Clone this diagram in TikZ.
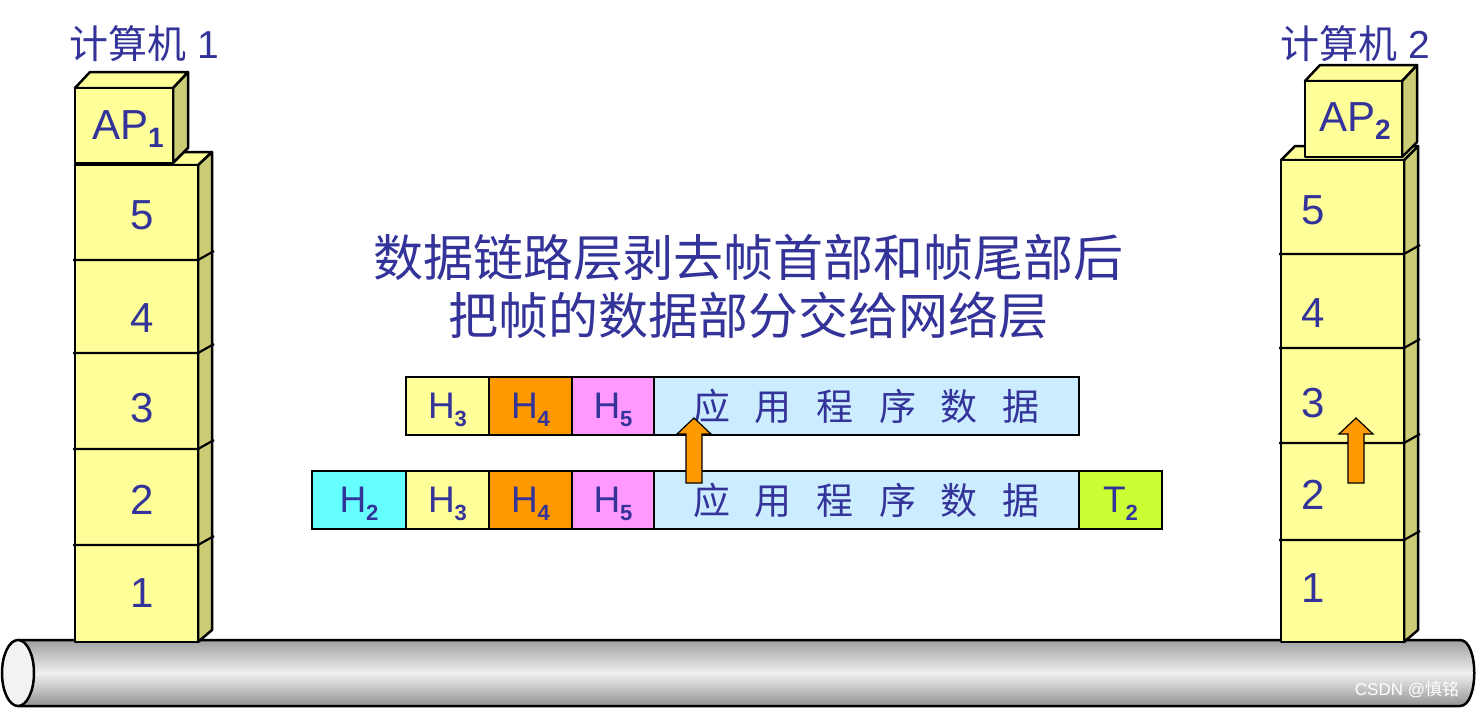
\documentclass[tikz,border=0pt]{standalone}
\usepackage{fontspec}
\setmainfont{Liberation Sans}
\newfontfamily\cjk{Noto Sans CJK SC}
\usetikzlibrary{positioning}

\definecolor{txtblue}{HTML}{333399}
\definecolor{layeryellow}{HTML}{FFFF99}
\definecolor{layerside}{HTML}{CCCC77}
\definecolor{htwo}{HTML}{66FFFF}
\definecolor{hthree}{HTML}{FFFF99}
\definecolor{hfour}{HTML}{FF9900}
\definecolor{hfive}{HTML}{FF99FF}
\definecolor{datablue}{HTML}{CCECFF}
\definecolor{ttwo}{HTML}{CCFF33}

\newcommand{\subnum}[2][22]{\raisebox{-8pt}[0pt][0pt]{\fontsize{#1}{#1}\selectfont\bfseries #2}}
\newcommand{\gap}{\hspace{25pt}}

\tikzset{
  blockface/.style={draw, line width=2.5pt, line join=round, fill=layeryellow},
  sideface/.style={blockface, fill=layerside},
  sepline/.style={line width=2.2pt},
  layernum/.style={text=txtblue, font=\fontsize{42}{42}\selectfont},
  seg/.style={draw, line width=2pt, minimum height=58, inner sep=0pt, outer sep=0pt,
    text=txtblue, font=\fontsize{37}{37}\selectfont},
  datafont/.style={font=\cjk\fontsize{37}{37}\selectfont},
  uparrow/.style={draw, line width=1.2pt, line join=miter, fill=hfour},
}

\begin{document}
\begin{tikzpicture}[x=1pt, y=-1pt]
  \useasboundingbox (0,0) rectangle (1478,710);

  % cable
  \shade[top color=gray!75, bottom color=gray!85, middle color=gray!12]
    (18,640) -- (1460,640) .. controls (1479,640) and (1479,706) .. (1460,706) -- (18,706) -- cycle;
  \draw[line width=2.5pt] (18,640) -- (1460,640) .. controls (1479,640) and (1479,706) .. (1460,706) -- (18,706);
  \draw[line width=2.5pt, fill=gray!10] (18,673) ellipse [x radius=16, y radius=33];

  % computer 1
  \draw[sideface] (198,165) -- (212,152) -- (212,630) -- (198,642) -- cycle;
  \draw[blockface] (75,165) -- (88,152) -- (212,152) -- (198,165) -- cycle;
  \draw[blockface] (75,165) rectangle (198,642);
  \foreach \y in {260,353,449,545}
    \draw[sepline] (73,\y) -- (198,\y) -- (214,\y-9);
  \draw[sideface] (173,88) -- (188,72) -- (188,148) -- (173,163) -- cycle;
  \draw[blockface] (75,88) -- (90,72) -- (188,72) -- (173,88) -- cycle;
  \draw[blockface] (75,88) rectangle (173,163);

  % computer 2
  \draw[sideface] (1404,160) -- (1418,146) -- (1418,630) -- (1404,642) -- cycle;
  \draw[blockface] (1281,160) -- (1295,146) -- (1418,146) -- (1404,160) -- cycle;
  \draw[blockface] (1281,160) rectangle (1404,642);
  \foreach \y in {254,348,443,540}
    \draw[sepline] (1279,\y) -- (1404,\y) -- (1420,\y-9);
  \draw[sideface] (1402,81) -- (1417,65) -- (1417,142) -- (1402,157) -- cycle;
  \draw[blockface] (1305,81) -- (1320,65) -- (1417,65) -- (1402,81) -- cycle;
  \draw[blockface] (1305,81) rectangle (1402,157);

  % labels
  \node[text=txtblue, font=\fontsize{39}{39}\selectfont] (pcone) at (144,44) {{\cjk 计算机} 1};
  \node[text=txtblue, font=\fontsize{39}{39}\selectfont] (pctwo) at (1355,44) {{\cjk 计算机} 2};
  \node[layernum] (apone) at (128,125) {AP\subnum[28]{1}};
  \node[layernum] (aptwo) at (1355,117) {AP\subnum[28]{2}};
  \node[layernum] (lfive) at (142,215) {5};
  \node[layernum] (lfour) at (142,318) {4};
  \node[layernum] (lthree) at (142,408) {3};
  \node[layernum] (ltwo) at (142,500) {2};
  \node[layernum] (lone) at (142,593) {1};
  \node[layernum] (rfive) at (1313,210) {5};
  \node[layernum] (rfour) at (1313,313) {4};
  \node[layernum] (rthree) at (1313,403) {3};
  \node[layernum] (rtwo) at (1313,495) {2};
  \node[layernum] (rone) at (1313,588) {1};

  \node[text=txtblue, align=center, font=\cjk\fontsize{50}{58}\selectfont] (title) at (748,287)
    {数据链路层剥去帧首部和帧尾部后\\把帧的数据部分交给网络层};

  % frame after stripping
  \node[seg, fill=hthree, minimum width=83] (upthree) at (447.5,406) {H\subnum{3}};
  \node[seg, fill=hfour, minimum width=83, right=0pt of upthree] (upfour) {H\subnum{4}};
  \node[seg, fill=hfive, minimum width=82, right=0pt of upfour] (upfive) {H\subnum{5}};
  \node[seg, datafont, fill=datablue, minimum width=425, right=0pt of upfive] (updata)
    {应\gap 用\gap 程\gap 序\gap 数\gap 据};

  % received frame
  \node[seg, fill=htwo, minimum width=94] (lotwo) at (359,500) {H\subnum{2}};
  \node[seg, fill=hthree, minimum width=83, right=0pt of lotwo] (lothree) {H\subnum{3}};
  \node[seg, fill=hfour, minimum width=83, right=0pt of lothree] (lofour) {H\subnum{4}};
  \node[seg, fill=hfive, minimum width=82, right=0pt of lofour] (lofive) {H\subnum{5}};
  \node[seg, datafont, fill=datablue, minimum width=425, right=0pt of lofive] (lodata)
    {应\gap 用\gap 程\gap 序\gap 数\gap 据};
  \node[seg, fill=ttwo, minimum width=83, right=0pt of lodata] (lotrail) {T\subnum{2}};

  % arrows
  \foreach \ax in {694,1356}
    \draw[uparrow] (\ax,418) -- ++(17,16) -- ++(-9,0) -- ++(0,49) -- ++(-16,0) -- ++(0,-49) -- ++(-9,0) -- cycle;

  \node[text=white, font=\fontsize{17}{17}\selectfont] (mark) at (1407,690) {CSDN @{\cjk 慎铭}};
\end{tikzpicture}
\end{document}
